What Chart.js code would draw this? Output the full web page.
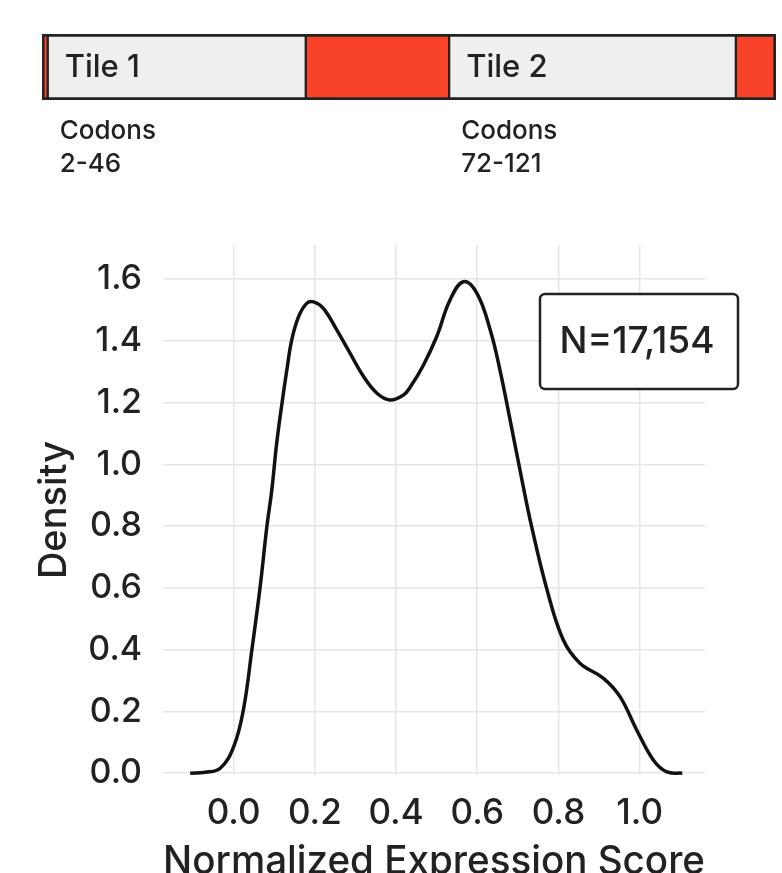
<!DOCTYPE html>
<html>
<head>
<meta charset="utf-8">
<script src="https://cdn.jsdelivr.net/npm/chart.js@4.4.1/dist/chart.umd.min.js"></script>
<style>
  html, body { margin: 0; padding: 0; background: #fff; }
  #wrap { position: relative; width: 782px; height: 873px; overflow: hidden; }
  #wrap canvas { position: absolute; left: 0; top: 0; }
</style>
</head>
<body>
<div id="wrap">
  <canvas id="densitychart" width="782" height="900"></canvas>
  <canvas id="tilechart" width="782" height="200"></canvas>
</div>
<script>
// tile map of the gene, in codons (codon 1 .. 128)
var tileSegments = [1, 45, 25, 50, 7];
var tileColors = ["#f8432a", "#efefef", "#f8432a", "#efefef", "#f8432a"];
var tileNames = ["", "Tile 1", "", "Tile 2", ""];
var tileRanges = ["", "2-46", "", "72-121", ""];

// density curve
var scoreX = [-0.107, -0.07, -0.033, 0.0, 0.024, 0.045, 0.065, 0.082, 0.094, 0.106, 0.119, 0.131,
  0.143, 0.160, 0.180, 0.197, 0.221, 0.254, 0.287, 0.320, 0.353, 0.385, 0.418, 0.435, 0.467,
  0.500, 0.533, 0.566, 0.599, 0.632, 0.656, 0.681, 0.710, 0.734, 0.771, 0.812, 0.853, 0.911,
  0.952, 0.993, 1.034, 1.067, 1.105];
var densityY = [0.0, 0.003, 0.016, 0.085, 0.205, 0.40, 0.60, 0.80, 0.917, 1.068, 1.197, 1.305,
  1.402, 1.478, 1.521, 1.526, 1.505, 1.435, 1.359, 1.284, 1.230, 1.208, 1.224, 1.250, 1.32,
  1.413, 1.532, 1.591, 1.554, 1.435, 1.305, 1.143, 0.95, 0.798, 0.598, 0.431, 0.356, 0.307,
  0.247, 0.139, 0.042, 0.004, 0.0];

var xTickValues = [0, 0.2, 0.4, 0.6, 0.8, 1.0];
var yTickValues = [0, 0.2, 0.4, 0.6, 0.8, 1.0, 1.2, 1.4, 1.6];
var sampleLabel = "N=17,154";

var FONT = "Inter, 'Open Sans', sans-serif";
var TEXT = "#222";

// ---- tile bar on top ----
var tileLabels = {
  id: "tileLabels",
  afterDatasetsDraw: function (chart) {
    var ctx = chart.ctx;
    var xs = chart.scales.x;
    var start = 0;
    ctx.save();
    ctx.fillStyle = TEXT;
    ctx.textAlign = "left";
    ctx.textBaseline = "alphabetic";
    for (var i = 0; i < tileSegments.length; i++) {
      var px = xs.getPixelForValue(start);
      if (tileNames[i]) {
        ctx.font = "500 31px " + FONT;
        ctx.fillText(tileNames[i], px + 17, 77);
        ctx.font = "500 26px " + FONT;
        ctx.fillText("Codons", px + 12, 139);
        ctx.fillText(tileRanges[i], px + 12, 172);
      }
      start += tileSegments[i];
    }
    ctx.restore();
  }
};

var last = tileSegments.length - 1;
new Chart(document.getElementById("tilechart"), {
  type: "bar",
  data: {
    labels: ["tiles"],
    datasets: tileSegments.map(function (v, i) {
      return {
        data: [v],
        backgroundColor: tileColors[i],
        borderColor: "#222",
        borderWidth: { top: 3, bottom: 3, left: i == 0 ? 3 : 1.5, right: i == last ? 3 : 1.5 },
        borderSkipped: false,
        barPercentage: 1,
        categoryPercentage: 1
      };
    })
  },
  options: {
    responsive: false,
    animation: false,
    indexAxis: "y",
    layout: { padding: { left: 42, right: 6, top: 34, bottom: 100 } },
    scales: {
      x: { stacked: true, display: false, min: 0, max: 128 },
      y: { stacked: true, display: false }
    },
    plugins: { legend: { display: false }, tooltip: { enabled: false } }
  },
  plugins: [tileLabels]
});

// ---- density plot ----
var nBox = {
  id: "nBox",
  afterDatasetsDraw: function (chart) {
    var ctx = chart.ctx;
    ctx.save();
    ctx.beginPath();
    ctx.roundRect(540, 294, 198, 95, 5);
    ctx.fillStyle = "#fff";
    ctx.fill();
    ctx.lineWidth = 2.5;
    ctx.strokeStyle = "#222";
    ctx.stroke();
    ctx.fillStyle = TEXT;
    ctx.font = "500 37px " + FONT;
    ctx.textAlign = "center";
    ctx.textBaseline = "middle";
    ctx.fillText(sampleLabel, 637, 342);
    ctx.restore();
  }
};

new Chart(document.getElementById("densitychart"), {
  type: "scatter",
  data: {
    datasets: [{
      data: scoreX.map(function (x, i) { return { x: x, y: densityY[i] }; }),
      showLine: true,
      borderColor: "#111",
      borderWidth: 3.5,
      pointRadius: 0,
      tension: 0.4,
      fill: false
    }]
  },
  options: {
    responsive: false,
    animation: false,
    layout: { padding: { left: 0, right: 77, top: 245, bottom: 0 } },
    scales: {
      x: {
        type: "linear",
        min: -0.174,
        max: 1.161,
        afterFit: function (s) { s.height = 125; },
        afterBuildTicks: function (s) { s.ticks = xTickValues.map(function (v) { return { value: v }; }); },
        grid: { color: "#e6e6e6", lineWidth: 1.5, drawTicks: false },
        border: { display: false },
        ticks: {
          autoSkip: false,
          maxRotation: 0,
          padding: 17,
          color: TEXT,
          font: { family: FONT, size: 35, weight: 500 },
          callback: function (v) { return v.toFixed(1); }
        },
        title: {
          display: true,
          text: "Normalized Expression Score",
          color: TEXT,
          font: { family: FONT, size: 39, weight: 500 },
          padding: { top: 0, bottom: 14 }
        }
      },
      y: {
        min: -0.006,
        max: 1.71,
        afterFit: function (s) { s.width = 163; },
        afterBuildTicks: function (s) { s.ticks = yTickValues.map(function (v) { return { value: v }; }); },
        grid: { color: "#e6e6e6", lineWidth: 1.5, drawTicks: false },
        border: { display: false },
        ticks: {
          padding: 21,
          color: TEXT,
          font: { family: FONT, size: 34, weight: 500 },
          callback: function (v) { return v.toFixed(1); }
        },
        title: {
          display: true,
          text: "Density",
          color: TEXT,
          font: { family: FONT, size: 38, weight: 500 },
          padding: { top: 32, bottom: 0 }
        }
      }
    },
    plugins: { legend: { display: false }, tooltip: { enabled: false } }
  },
  plugins: [nBox]
});
</script>
</body>
</html>
